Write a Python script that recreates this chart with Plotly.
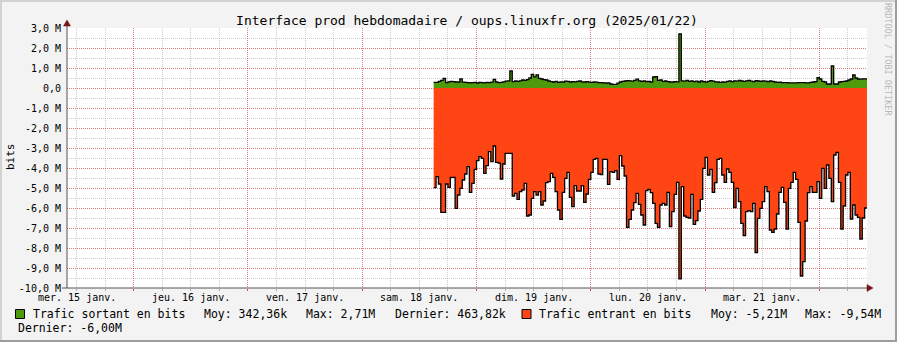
import plotly.graph_objects as go
from datetime import datetime, timedelta

# ---------------- data ----------------
title_text = "Interface prod hebdomadaire / oups.linuxfr.org (2025/01/22)"
series_end = datetime(2025, 1, 22, 10, 0)
step_minutes = 30

# outgoing traffic, Mbit/s (30-min averages)
outgoing_mbits = [
    0.28, 0.28, 0.33, 0.38, 0.48, 0.27, 0.31, 0.33, 0.32, 0.30,
    0.30, 0.46, 0.29, 0.28, 0.27, 0.26, 0.27, 0.28, 0.25, 0.28,
    0.27, 0.26, 0.28, 0.27, 0.29, 0.43, 0.30, 0.27, 0.28, 0.31,
    0.34, 0.36, 0.86, 0.32, 0.35, 0.33, 0.36, 0.40, 0.38, 0.42,
    0.50, 0.68, 0.56, 0.66, 0.48, 0.45, 0.42, 0.40, 0.35, 0.32,
    0.30, 0.33, 0.28, 0.31, 0.30, 0.34, 0.33, 0.30, 0.32, 0.31,
    0.33, 0.35, 0.31, 0.30, 0.32, 0.29, 0.28, 0.30, 0.29, 0.27,
    0.27, 0.26, 0.25, 0.26, 0.20, 0.18, 0.18, 0.24, 0.30, 0.33,
    0.35, 0.37, 0.36, 0.34, 0.38, 0.44, 0.36, 0.33, 0.35, 0.32,
    0.33, 0.30, 0.55, 0.57, 0.38, 0.40, 0.33, 0.35, 0.32, 0.30,
    0.30, 0.32, 0.31, 2.71, 0.36, 0.34, 0.38, 0.33, 0.36, 0.32,
    0.34, 0.30, 0.35, 0.32, 0.29, 0.33, 0.37, 0.34, 0.31, 0.30,
    0.28, 0.30, 0.29, 0.33, 0.35, 0.32, 0.36, 0.34, 0.38, 0.35,
    0.33, 0.36, 0.38, 0.34, 0.32, 0.37, 0.35, 0.33, 0.36, 0.34,
    0.32, 0.35, 0.33, 0.30, 0.28, 0.29, 0.27, 0.27, 0.27, 0.26,
    0.26, 0.26, 0.26, 0.27, 0.27, 0.27, 0.26, 0.26, 0.28, 0.30,
    0.32, 0.52, 0.45, 0.33, 0.30, 0.20, 0.20, 1.10, 0.20, 0.20,
    0.30, 0.32, 0.33, 0.35, 0.40, 0.45, 0.65, 0.50, 0.45, 0.44,
    0.46, 0.46,
]

# incoming traffic, Mbit/s (plotted negative)
incoming_mbits = [
    -4.98, -4.43, -4.80, -6.22, -6.22, -4.80, -4.97, -4.47, -4.47, -6.02,
    -5.35, -5.02, -4.60, -4.30, -3.93, -5.22, -4.77, -4.07, -3.63, -3.43,
    -3.52, -4.27, -3.88, -3.18, -3.68, -2.90, -3.72, -3.75, -4.55, -3.80,
    -3.27, -3.27, -3.27, -5.40, -5.27, -5.57, -5.18, -5.10, -4.77, -6.40,
    -6.35, -5.52, -5.18, -5.35, -5.18,
    -5.85, -5.65, -4.73, -4.68, -4.27, -4.47, -5.18, -6.10, -6.57, -5.22,
    -4.52, -4.22, -5.47, -5.93, -4.88, -5.15, -5.15, -4.88, -5.72, -5.30,
    -4.57, -4.22, -3.57, -3.52, -4.30, -4.33, -3.57, -3.57, -4.82, -4.18,
    -4.22, -4.13, -4.57, -3.38, -3.90, -4.40, -6.97, -6.57, -6.10, -5.73,
    -5.27, -5.82, -6.35, -6.85, -5.13,
    -5.07, -5.23, -5.77, -6.77, -6.97, -5.85, -5.77, -5.85, -5.22, -6.93,
    -6.18, -5.32, -4.72, -9.54, -4.93, -6.40, -6.47, -6.50, -5.32, -6.82,
    -6.63, -6.15, -5.57, -4.02, -3.47, -4.35, -4.07, -5.22, -4.73, -3.57,
    -3.52, -4.35, -4.72, -4.05, -4.22, -4.72, -5.98, -5.02, -5.68, -6.77,
    -7.38, -6.18, -6.13, -6.18, -5.77,
    -8.23, -6.52, -6.02, -5.68, -4.93, -5.18, -7.10, -7.22, -7.05, -6.30,
    -5.22, -4.97, -5.72, -7.05, -5.02, -4.72, -4.22, -4.57, -6.72, -9.40,
    -8.68, -6.65, -5.23, -4.93, -5.22, -5.22, -4.68, -5.52, -4.02, -5.02,
    -3.85, -4.52, -5.68, -3.35, -3.22, -4.72, -7.05, -5.90, -4.35, -4.22,
    -6.55, -5.85, -6.35, -6.47, -7.55, -6.50, -6.00,
]

x_range = ["2025-01-15 10:00", "2025-01-22 10:00"]
day_starts = ["2025-01-16", "2025-01-17", "2025-01-18", "2025-01-19",
              "2025-01-20", "2025-01-21", "2025-01-22"]
day_label_times = ["2025-01-15 12:00", "2025-01-16 12:00", "2025-01-17 12:00",
                   "2025-01-18 12:00", "2025-01-19 12:00", "2025-01-20 12:00",
                   "2025-01-21 12:00"]
day_labels = ["mer. 15 janv.", "jeu. 16 janv.", "ven. 17 janv.", "sam. 18 janv.",
              "dim. 19 janv.", "lun. 20 janv.", "mar. 21 janv."]

y_tick_vals = [3, 2, 1, 0, -1, -2, -3, -4, -5, -6, -7, -8, -9, -10]
y_tick_labels = ["3,0 M", "2,0 M", "1,0 M", "0,0", "-1,0 M", "-2,0 M", "-3,0 M",
                 "-4,0 M", "-5,0 M", "-6,0 M", "-7,0 M", "-8,0 M", "-9,0 M", "-10,0 M"]

out_name = "Trafic sortant en bits"
out_stats = ["Moy: 342,36k", "Max: 2,71M", "Dernier: 463,82k"]
in_name = "Trafic entrant en bits"
in_stats = ["Moy: -5,21M", "Max: -9,54M", "Dernier: -6,00M"]

green = "#4E9A0C"
orange = "#FF4513"
mono = "DejaVu Sans Mono"

# ---------------- geometry helpers ----------------
W, H = 897, 342
L, R, T, B = 67, 867, 28, 288


def px2x(px):
    return (px - L) / (R - L)


def py2y(py):
    return (B - py) / (B - T)


# ---------------- series ----------------
n = len(incoming_mbits)
step = timedelta(minutes=step_minutes)
start = series_end - n * step
times = [start + k * step for k in range(n)] + [series_end]
out_vals = outgoing_mbits + [outgoing_mbits[-1]]
in_vals = incoming_mbits + [incoming_mbits[-1]]

fig = go.Figure()
fig.add_trace(go.Scatter(x=times, y=in_vals, mode="lines", line_shape="hv",
                         fill="tozeroy", fillcolor=orange,
                         line=dict(color="black", width=1.3), showlegend=False,
                         hoverinfo="skip"))
fig.add_trace(go.Scatter(x=times, y=out_vals, mode="lines", line_shape="hv",
                         fill="tozeroy", fillcolor=green,
                         line=dict(color="black", width=1.3), showlegend=False,
                         hoverinfo="skip"))

major_grid = "rgba(255,0,0,0.38)"
minor_grid = "rgba(120,120,120,0.38)"

fig.update_layout(
    width=W, height=H,
    margin=dict(l=L, r=W - R, t=T, b=H - B, pad=0),
    paper_bgcolor="#F3F3F3", plot_bgcolor="#FFFFFF",
    font=dict(family=mono, size=10, color="#000000"),
    title=dict(text=title_text, x=0.5, xref="paper", xanchor="center",
               y=1 - 20 / H, yanchor="middle",
               font=dict(family=mono, size=13, color="#000000")),
    xaxis=dict(type="date", range=x_range, tickmode="array",
               tickvals=day_starts, ticktext=[""] * len(day_starts),
               showgrid=True, gridcolor=major_grid, griddash="1px,1px", gridwidth=1,
               ticks="outside", ticklen=2, tickcolor="rgba(255,0,0,0.6)",
               minor=dict(tick0="2025-01-15 00:00", dtick=6 * 3600 * 1000,
                          showgrid=True, gridcolor=minor_grid, griddash="1px,1px",
                          ticks="outside", ticklen=2, tickcolor="#AAAAAA"),
               zeroline=False, showline=False, fixedrange=True),
    yaxis=dict(range=[-10, 3], tickmode="array", tickvals=y_tick_vals,
               ticktext=y_tick_labels, showgrid=True, gridcolor=major_grid,
               griddash="1px,1px", gridwidth=1, ticks="outside", ticklen=3,
               tickcolor="rgba(0,0,0,0)",
               tickfont=dict(family=mono, size=10, color="#000000"),
               minor=dict(dtick=0.5, showgrid=True, gridcolor=minor_grid,
                          griddash="1px,1px"),
               zeroline=False, showline=False, fixedrange=True),
)

shapes = []
axis_col = "#555555"
arrow_col = "#7A1414"
# axes
shapes.append(dict(type="line", xref="paper", yref="paper", x0=px2x(L), x1=px2x(L),
                   y0=py2y(B), y1=py2y(22), line=dict(color=axis_col, width=1), layer="above"))
shapes.append(dict(type="line", xref="paper", yref="paper", x0=px2x(62), x1=px2x(870),
                   y0=py2y(B), y1=py2y(B), line=dict(color=axis_col, width=1), layer="above"))
# arrows
shapes.append(dict(type="path", xref="paper", yref="paper",
                   path=f"M {px2x(63.5)} {py2y(26)} L {px2x(70.5)} {py2y(26)} L {px2x(67)} {py2y(20)} Z",
                   fillcolor=arrow_col, line=dict(color=arrow_col, width=0.5), layer="above"))
shapes.append(dict(type="path", xref="paper", yref="paper",
                   path=f"M {px2x(867)} {py2y(284.5)} L {px2x(867)} {py2y(291.5)} L {px2x(873)} {py2y(288)} Z",
                   fillcolor=arrow_col, line=dict(color=arrow_col, width=0.5), layer="above"))
# frame shading
shapes.append(dict(type="rect", xref="paper", yref="paper", x0=px2x(0), x1=px2x(W),
                   y0=py2y(0), y1=py2y(2), fillcolor="#D2D2D2", line=dict(width=0)))
shapes.append(dict(type="rect", xref="paper", yref="paper", x0=px2x(0), x1=px2x(2),
                   y0=py2y(0), y1=py2y(H), fillcolor="#D2D2D2", line=dict(width=0)))
shapes.append(dict(type="rect", xref="paper", yref="paper", x0=px2x(W - 2), x1=px2x(W),
                   y0=py2y(0), y1=py2y(H), fillcolor="#9E9E9E", line=dict(width=0)))
shapes.append(dict(type="rect", xref="paper", yref="paper", x0=px2x(0), x1=px2x(W),
                   y0=py2y(H - 2), y1=py2y(H), fillcolor="#9E9E9E", line=dict(width=0)))
# legend swatches
shapes.append(dict(type="rect", xref="paper", yref="paper", x0=px2x(15.5), x1=px2x(24.5),
                   y0=py2y(309.5), y1=py2y(318.5), fillcolor=green,
                   line=dict(color="black", width=1)))
shapes.append(dict(type="rect", xref="paper", yref="paper", x0=px2x(522), x1=px2x(531),
                   y0=py2y(309.5), y1=py2y(318.5), fillcolor=orange,
                   line=dict(color="black", width=1)))
fig.update_layout(shapes=shapes)

ann = []
for t, lab in zip(day_label_times, day_labels):
    ann.append(dict(x=t, xref="x", y=py2y(297.5), yref="paper", text=lab,
                    showarrow=False, xanchor="center", yanchor="middle",
                    font=dict(family=mono, size=10, color="#000000")))

legend_font = dict(family=mono, size=11.5, color="#000000")
row1 = [(31, out_name), (202, out_stats[0]), (304, out_stats[1]), (393, out_stats[2]),
        (537, in_name), (709, in_stats[0]), (803, in_stats[1])]
for xp, txt in row1:
    ann.append(dict(x=px2x(xp), xref="paper", y=py2y(314), yref="paper", text=txt,
                    showarrow=False, xanchor="left", yanchor="middle", font=legend_font))
ann.append(dict(x=px2x(16), xref="paper", y=py2y(328), yref="paper", text=in_stats[2],
                showarrow=False, xanchor="left", yanchor="middle", font=legend_font))

ann.append(dict(x=px2x(10), xref="paper", y=py2y(157), yref="paper", text="bits",
                textangle=-90, showarrow=False, xanchor="center", yanchor="middle",
                font=dict(family=mono, size=11, color="#000000")))
ann.append(dict(x=px2x(888), xref="paper", y=py2y(59), yref="paper",
                text="RRDTOOL / TOBI OETIKER", textangle=90, showarrow=False,
                xanchor="center", yanchor="middle",
                font=dict(family=mono, size=8.5, color="#B8B8B8")))
fig.update_layout(annotations=ann)

fig.write_html("out.html")
